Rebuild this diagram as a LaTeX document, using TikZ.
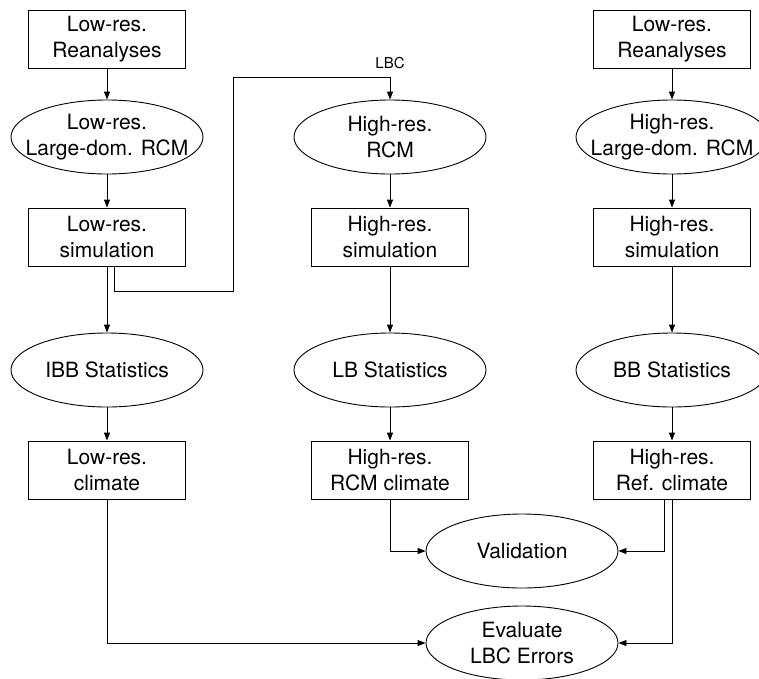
\documentclass[tikz,border=0pt]{standalone}
\usepackage{fontspec}
\setmainfont{TeX Gyre Heros}
\usetikzlibrary{shapes.geometric, positioning, arrows.meta}

\tikzset{
    data/.style={draw, rectangle, minimum width=157pt, minimum height=58pt, align=center, inner sep=2pt},
    model/.style={draw, ellipse, minimum width=192pt, minimum height=74pt, align=center, inner xsep=-30pt, inner ysep=0pt}
}

\begin{document}
\begin{tikzpicture}[>={Triangle[length=8pt,width=6pt]}, line width=0.9pt, font=\fontsize{21}{26}\selectfont, node distance=100pt]
    \useasboundingbox (0,0) rectangle (759pt,-678pt);
    % left column
    \node[data] (lrrea) at (107pt,-39pt) {Low-res.\\Reanalyses};
    \node[model, node distance=98pt, below of=lrrea] (lrrcm) {Low-res.\\Large-dom. RCM};
    \node[data, below of=lrrcm] (lrsim) {Low-res.\\simulation};
    \node[model, node distance=133pt, below of=lrsim] (ibb) {IBB Statistics};
    \node[data, below of=ibb] (lrclim) {Low-res.\\climate};
    % middle column
    \node[model, node distance=283pt, right of=lrrcm] (hrrcm) {High-res.\\RCM};
    \node[data, below of=hrrcm] (hrsim) {High-res.\\simulation};
    \node[model, node distance=133pt, below of=hrsim] (lb) {LB Statistics};
    \node[data, below of=lb] (hrclim) {High-res.\\RCM climate};
    % right column
    \node[data, node distance=565pt, right of=lrrea] (rrrea) {Low-res.\\Reanalyses};
    \node[model, node distance=98pt, below of=rrrea] (rrrcm) {High-res.\\Large-dom. RCM};
    \node[data, below of=rrrcm] (rrsim) {High-res.\\simulation};
    \node[model, node distance=133pt, below of=rrsim] (bb) {BB Statistics};
    \node[data, below of=bb] (rrclim) {High-res.\\Ref. climate};
    % comparisons
    \node[model, node distance=81pt, below of=hrclim, xshift=132pt] (valid) {Validation};
    \node[model, node distance=92pt, below of=valid] (eval) {Evaluate\\LBC Errors};
    \coordinate (lbc) at (233pt,-77pt);

    \draw[->] (lrrea) edge (lrrcm)
          (lrrcm) edge (lrsim)
          (lrsim) edge (ibb)
          (ibb) edge (lrclim)
          (hrrcm) edge (hrsim)
          (hrsim) edge (lb)
          (lb) edge (hrclim)
          (rrrea) edge (rrrcm)
          (rrrcm) edge (rrsim)
          (rrsim) edge (bb)
          (bb) edge (rrclim);
    \draw[->] ([xshift=7pt]lrsim.south) -- ++(0,-25pt) -| (lbc)
          -| node[pos=0.5, above, yshift=4pt, font=\fontsize{15}{17}\selectfont] {LBC} (hrrcm.north);
    \draw[->] (hrclim.south) |- (valid.west);
    \draw[->] ([xshift=-8pt]rrclim.south) |- (valid.east);
    \draw[->] (rrclim.south) |- (eval.east);
    \draw[->] (lrclim.south) |- (eval.west);
\end{tikzpicture}
\end{document}
